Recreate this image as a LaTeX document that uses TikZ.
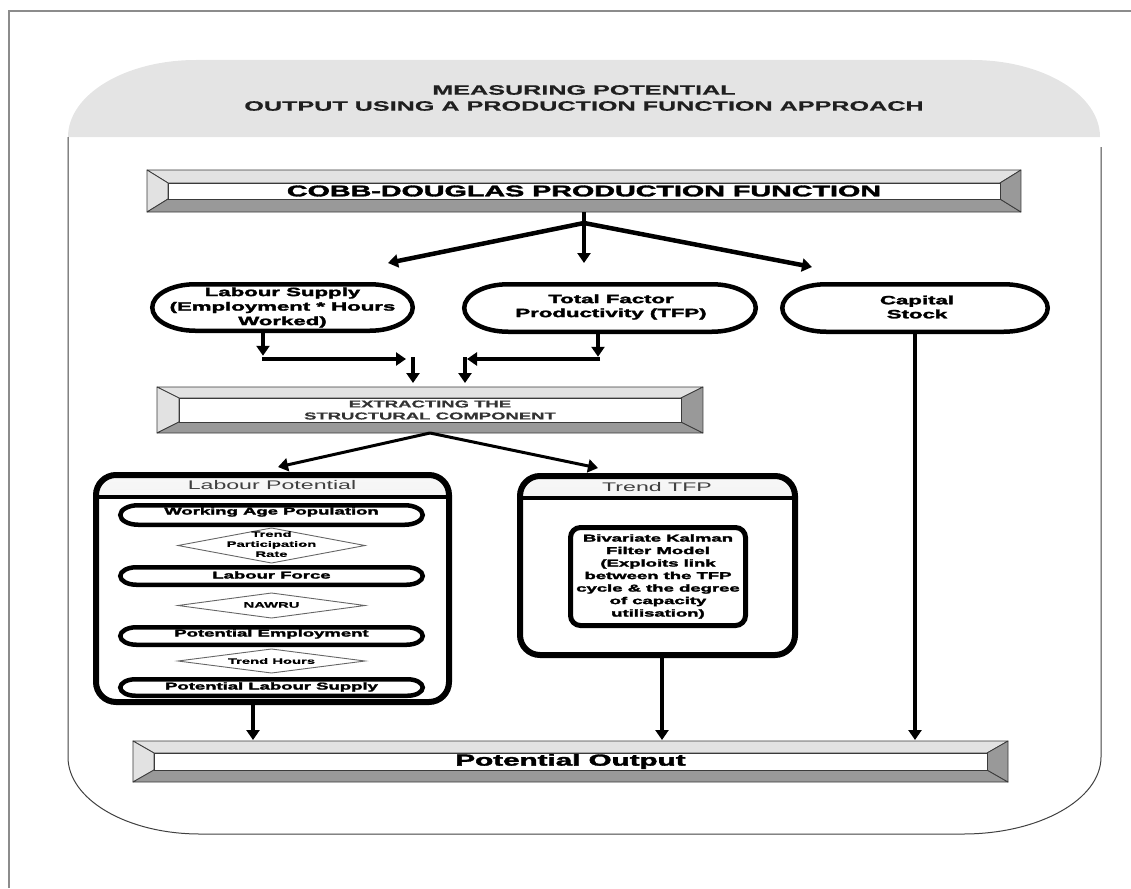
\documentclass[tikz,border=0pt]{standalone}
\usepackage{fontspec}
\setmainfont{Liberation Sans}
\newfontfamily\heavy{Liberation Sans Bold}[FakeBold=2]
\newfontfamily\semib{Liberation Sans Bold}[FakeBold=0.6]
\newfontfamily\ttlfont{Liberation Sans Bold}[FakeBold=0.3]
\usetikzlibrary{arrows.meta,shapes.geometric,shapes.misc,backgrounds}
\definecolor{hdr}{HTML}{E4E4E4}
\definecolor{bvl}{HTML}{E2E2E2}
\definecolor{bvd}{HTML}{999999}
\definecolor{bvs}{HTML}{3A3A3A}
\newcommand{\bevelbar}[3]{%
\begin{pgfonlayer}{background}
\filldraw[bvl, draw=bvs, line width=0.8pt, line join=round] (#1.north west) -- (#1.north east) -- ([xshift=-#2,yshift=-#3]#1.north east) -- ([xshift=#2,yshift=-#3]#1.north west) -- cycle;
\filldraw[bvl, draw=bvs, line width=0.8pt, line join=round] (#1.north west) -- ([xshift=#2,yshift=-#3]#1.north west) -- ([xshift=#2,yshift=#3]#1.south west) -- (#1.south west) -- cycle;
\filldraw[bvd, draw=bvs, line width=0.8pt, line join=round] (#1.south west) -- ([xshift=#2,yshift=#3]#1.south west) -- ([xshift=-#2,yshift=#3]#1.south east) -- (#1.south east) -- cycle;
\filldraw[bvd, draw=bvs, line width=0.8pt, line join=round] (#1.north east) -- (#1.south east) -- ([xshift=-#2,yshift=#3]#1.south east) -- ([xshift=-#2,yshift=-#3]#1.north east) -- cycle;
\filldraw[white, draw=bvs, line width=0.8pt] ([xshift=#2,yshift=-#3]#1.north west) rectangle ([xshift=-#2,yshift=#3]#1.south east);
\end{pgfonlayer}}
\tikzset{
  sx/.style={xscale=1.85},
  bar/.style={sx, inner sep=0pt, outer sep=0pt, align=center},
  pill/.style={sx, rounded rectangle, draw, line width=4.5pt, inner sep=0pt, outer sep=0pt},
  ipill/.style={sx, rounded rectangle, draw, line width=4.5pt, inner sep=0pt, outer sep=0pt, minimum width=163.5pt},
  txt/.style={sx, align=center, inner sep=0pt},
  dia/.style={diamond, draw=black!60, line width=0.9pt, inner sep=0pt, outer sep=0pt, minimum width=187pt},
  cont/.style={draw, line width=6pt, rounded corners=20pt, inner sep=0pt, outer sep=0pt,
    path picture={
      \fill[sharp corners, top color=black!3, bottom color=black!15] (path picture bounding box.north west) rectangle ([yshift=-22pt]path picture bounding box.north east);
      \draw[sharp corners, line width=4pt] ([yshift=-22pt]path picture bounding box.north west) -- ([yshift=-22pt]path picture bounding box.north east);
    }},
  ar/.style={line width=#1, -{Triangle[width=13pt,length=10pt]}},
}
\begin{document}
\begin{tikzpicture}[x=1pt,y=-1pt]
\useasboundingbox (0,0) rectangle (1131,888);
% outer page frame
\draw[black!45, line width=1.5pt] (9,888) -- (9,11) -- (1131,11);
% header
\fill[hdr] (68,137) .. controls (68,94.5) and (125.3,60) .. (196,60) -- (972,60) .. controls (1042.7,60) and (1100,94.5) .. (1100,137) -- cycle;
\node[txt, font=\ttlfont\fontsize{13.6}{16}\selectfont, text=black!88] (title) at (584,98) {MEASURING POTENTIAL\\OUTPUT USING A PRODUCTION FUNCTION APPROACH};
% main frame
\draw[line width=1pt, black!75] (1101,147) -- (1101,757) .. controls (1101,799.5) and (1039.2,834) .. (963,834) -- (200,834) .. controls (127.1,834) and (68,799.5) .. (68,757) -- (68,137);

% bars
\node[bar, minimum width=472.4pt, minimum height=42pt, font=\heavy\fontsize{15.5}{18}\selectfont] (cd) at (584,191) {COBB-DOUGLAS PRODUCTION FUNCTION};
\bevelbar{cd}{21pt}{13pt}
\node[bar, minimum width=295.1pt, minimum height=46pt, font=\semib\fontsize{10}{12}\selectfont, text=black!80] (ex) at (430,410) {EXTRACTING THE\\STRUCTURAL COMPONENT};
\bevelbar{ex}{22pt}{11pt}
\node[bar, minimum width=473pt, minimum height=41pt, font=\heavy\fontsize{16}{18}\selectfont] (po) at (570.5,761.5) {Potential Output};
\bevelbar{po}{21pt}{12pt}

% first row pills
\node[pill, minimum width=140.8pt, minimum height=46.5pt] (ls) at (282.5,307.5) {};
\node[txt, font=\heavy\fontsize{12}{14.5}\selectfont] (lst) at (282.5,307.5) {Labour Supply\\(Employment * Hours\\Worked)};
\node[pill, minimum width=157.6pt, minimum height=47.5pt] (tfp) at (610,308) {};
\node[txt, font=\heavy\fontsize{12}{14}\selectfont] (tfpt) at (611,307) {Total Factor\\Productivity (TFP)};
\node[pill, minimum width=143.5pt, minimum height=47.5pt] (cs) at (915,308) {};
\node[txt, font=\heavy\fontsize{12}{14}\selectfont] (cst) at (917,307) {Capital\\Stock};

% containers
\node[cont, minimum width=353pt, minimum height=227pt] (lp) at (272.5,588.5) {};
\node[txt, font=\fontsize{12.5}{14}\selectfont, text=black!75] (lpt) at (272,485) {Labour Potential};
\node[cont, minimum width=275pt, minimum height=179pt] (tt) at (657.5,565.5) {};
\node[txt, font=\fontsize{12.5}{14}\selectfont, text=black!75] (ttt) at (657,487) {Trend TFP};
\node[sx, draw, line width=5pt, rounded corners=10pt, minimum width=94.6pt, minimum height=98pt, inner sep=0pt, outer sep=0pt, align=center, font=\heavy\fontsize{10}{12.5}\selectfont] (bk) at (658,576.5) {Bivariate Kalman\\Filter Model\\(Exploits link\\between the TFP\\cycle \& the degree\\of capacity\\utilisation)};

% labour potential chain
\node[ipill, minimum height=19.5pt] (wap) at (271.5,515) {};
\node[txt, font=\heavy\fontsize{10}{12}\selectfont] (wapt) at (271.5,512) {Working Age Population};
\node[dia, minimum height=35pt] (d1) at (271.5,545.5) {};
\node[txt, font=\semib\fontsize{8}{10}\selectfont] (d1t) at (271.5,544) {Trend\\Participation\\Rate};
\node[ipill, minimum height=17.5pt] (lf) at (271.5,576) {};
\node[txt, font=\heavy\fontsize{10}{12}\selectfont] (lft) at (271.5,575) {Labour Force};
\node[dia, minimum height=25pt] (d2) at (271.5,605.5) {};
\node[txt, font=\semib\fontsize{8}{10}\selectfont] (d2t) at (271.5,605) {NAWRU};
\node[ipill, minimum height=17.5pt] (pe) at (271.5,636) {};
\node[txt, font=\heavy\fontsize{10}{12}\selectfont] (pet) at (271.5,634) {Potential Employment};
\node[dia, minimum height=24pt] (d3) at (271.5,661) {};
\node[txt, font=\semib\fontsize{8}{10}\selectfont] (d3t) at (271.5,661) {Trend Hours};
\node[ipill, minimum height=16.5pt] (pls) at (271.5,687.5) {};
\node[txt, font=\heavy\fontsize{10}{12}\selectfont] (plst) at (271.5,687) {Potential Labour Supply};

% connectors: top fork
\coordinate (fork) at (584,223);
\coordinate (lsin) at (388,263);
\coordinate (tfpin) at (584,263);
\coordinate (csin) at (812,267);
\draw[line width=4.5pt] (cd.south) -- (fork);
\draw[ar=4.5pt] (fork) -- (lsin);
\draw[ar=4.5pt] (fork) -- (tfpin);
\draw[ar=4.5pt] (fork) -- (csin);

% connectors: into extracting
\coordinate (hla) at (262,359);
\coordinate (hlb) at (406,359);
\coordinate (dla) at (413,357);
\coordinate (dlb) at (413,383);
\coordinate (hra) at (600,359);
\coordinate (hrb) at (467,359);
\coordinate (dra) at (465,357);
\coordinate (drb) at (465,383);
\draw[ar=4.5pt] ([xshift=-19.5pt]ls.south) -- ++(0,25);
\draw[ar=4.5pt] (hla) -- (hlb);
\draw[ar=4.5pt] (dla) -- (dlb);
\draw[ar=4.5pt] ([xshift=-12pt]tfp.south) -- ++(0,25);
\draw[ar=4.5pt] (hra) -- (hrb);
\draw[ar=4.5pt] (dra) -- (drb);

% connectors: extracting fork
\coordinate (lpin) at (278,467);
\coordinate (ttin) at (598,468);
\draw[ar=3pt] (ex.south) -- (lpin);
\draw[ar=3pt] (ex.south) -- (ttin);

% connectors: into potential output
\draw[ar=3.5pt, shorten >=1pt] ([xshift=-19.5pt]lp.south) -- ([xshift=-19.5pt]lp.south |- po.north);
\draw[ar=3.5pt, shorten >=1pt] ([xshift=4.5pt]tt.south) -- ([xshift=4.5pt]tt.south |- po.north);
\draw[ar=3.5pt, shorten >=1pt] (cs.south) -- (cs.south |- po.north);
\end{tikzpicture}
\end{document}
